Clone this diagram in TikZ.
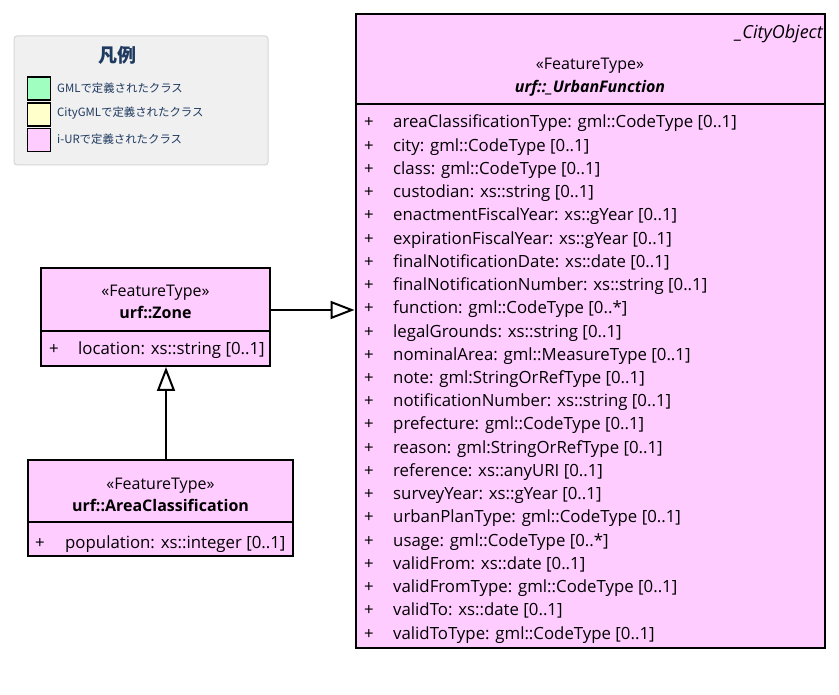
\documentclass[tikz,border=0pt]{standalone}
\usepackage{fontspec}
\setmainfont{Open Sans}
\newfontfamily\jpfont{Noto Sans CJK JP}
\usetikzlibrary{arrows.meta}
\definecolor{ufill}{HTML}{FFCCFF}
\definecolor{gmlfill}{HTML}{A0FFC0}
\definecolor{cgmlfill}{HTML}{FFFFCC}
\definecolor{legbg}{HTML}{F0F0F0}
\definecolor{legline}{HTML}{D6D6D6}
\definecolor{legtext}{HTML}{1F3A60}
\tikzset{
  classbox/.style={draw=black, line width=2pt, fill=ufill, inner sep=0pt},
  sepline/.style={draw=black, line width=2pt},
  attr/.style={anchor=base west, inner sep=0pt, font=\fontsize{16.8}{17}\selectfont},
  plus/.style={anchor=base, inner sep=0pt, font=\fontsize{16.8}{17}\selectfont},
  stereo/.style={anchor=base, inner sep=0pt, font=\fontsize{16}{16}\selectfont},
  cname/.style={anchor=base, inner sep=0pt, font=\fontsize{16}{16}\selectfont\bfseries},
  swatch/.style={draw=black, line width=1.2pt, inner sep=0pt, minimum width=23pt, minimum height=23pt},
  legitem/.style={anchor=west, inner sep=0pt, text=legtext, font=\jpfont\fontsize{11.4}{12}\selectfont},
  genarrow/.style={draw=black, line width=2pt, -{Triangle[open, length=24pt, width=18pt]}}
}
\begin{document}
\begin{tikzpicture}[x=1pt, y=-1pt]
\useasboundingbox (0,0) rectangle (839,695);
\fill[white] (0,0) rectangle (839,695);

% legend
\node[draw=legline, fill=legbg, rounded corners=3pt, line width=1pt, minimum width=254pt, minimum height=129pt, inner sep=0pt] (legend) at (141,100.5) {};
\node[inner sep=0pt, anchor=base, text=legtext, font=\jpfont\bfseries\fontsize{19}{19}\selectfont] (legtitle) at (117,63) {凡例};
\node[swatch, fill=gmlfill] (sw1) at (39,88.5) {};
\node[swatch, fill=cgmlfill] (sw2) at (39,114.5) {};
\node[swatch, fill=ufill] (sw3) at (39,140) {};
\node[legitem] (lt1) at (57,88) {GMLで定義されたクラス};
\node[legitem] (lt2) at (57,113) {CityGMLで定義されたクラス};
\node[legitem] (lt3) at (57,139) {i-URで定義されたクラス};

% urf::_UrbanFunction
\node[classbox, minimum width=469pt, minimum height=634pt] (uf) at (590,331) {};
\draw[sepline] (356,104) -- (824,104);
\node[anchor=base east, inner sep=0pt, font=\fontsize{18}{18}\selectfont\itshape] (ufpar) at (823,39) {\_CityObject};
\node[stereo] (ufst) at (590,70) {«FeatureType»};
\node[cname, font=\fontsize{16}{16}\selectfont\bfseries\itshape] (ufname) at (590,93) {urf::\_UrbanFunction};
\foreach [count=\i] \a in {
  areaClassificationType: gml::CodeType [0..1],
  city: gml::CodeType [0..1],
  class: gml::CodeType [0..1],
  custodian: xs::string [0..1],
  enactmentFiscalYear: xs::gYear [0..1],
  expirationFiscalYear: xs::gYear [0..1],
  finalNotificationDate: xs::date [0..1],
  finalNotificationNumber: xs::string [0..1],
  function: gml::CodeType [0..*],
  legalGrounds: xs::string [0..1],
  nominalArea: gml::MeasureType [0..1],
  note: gml:StringOrRefType [0..1],
  notificationNumber: xs::string [0..1],
  prefecture: gml::CodeType [0..1],
  reason: gml:StringOrRefType [0..1],
  reference: xs::anyURI [0..1],
  surveyYear: xs::gYear [0..1],
  urbanPlanType: gml::CodeType [0..1],
  usage: gml::CodeType [0..*],
  validFrom: xs::date [0..1],
  validFromType: gml::CodeType [0..1],
  validTo: xs::date [0..1],
  validToType: gml::CodeType [0..1]} {
  \node[plus] (ufp\i) at (369,{128+(\i-1)*23.23}) {+};
  \node[attr] (ufa\i) at (393,{128+(\i-1)*23.23}) {\a};
}

% urf::Zone
\node[classbox, minimum width=229pt, minimum height=98pt] (zone) at (155.5,317) {};
\draw[sepline] (41,331) -- (270,331);
\node[stereo] (zst) at (155.5,297) {«FeatureType»};
\node[cname] (zname) at (155.5,319) {urf::Zone};
\node[plus] (zp1) at (54,355) {+};
\node[attr] (za1) at (78,355) {location: xs::string [0..1]};

% urf::AreaClassification
\node[classbox, minimum width=265pt, minimum height=96pt] (ac) at (160.5,508) {};
\draw[sepline] (28,522) -- (293,522);
\node[stereo] (acst) at (160.5,489) {«FeatureType»};
\node[cname] (acname) at (160.5,511) {urf::AreaClassification};
\node[plus] (acp1) at (40,548) {+};
\node[attr] (aca1) at (65,548) {population: xs::integer [0..1]};

% generalizations
\draw[genarrow] (zone.east |- 0,310) -- (uf.west |- 0,310);
\draw[genarrow] (ac.north -| 166,0) -- (zone.south -| 166,0);
\end{tikzpicture}
\end{document}
